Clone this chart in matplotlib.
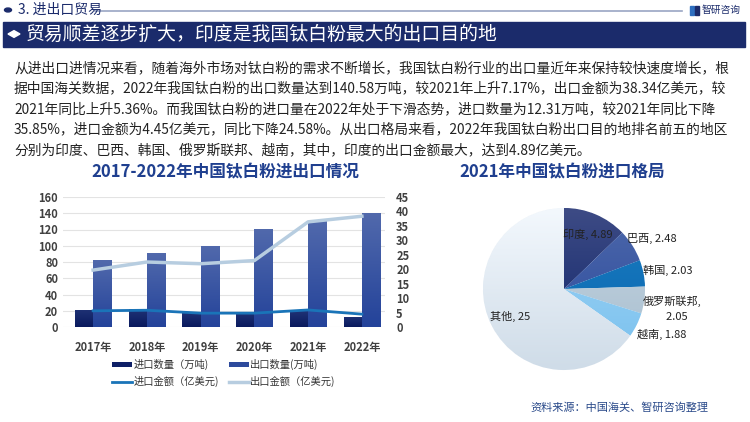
import matplotlib.pyplot as plt
import numpy as np
from matplotlib.patches import Rectangle, Circle, RegularPolygon
from matplotlib.colors import LinearSegmentedColormap

plt.rcParams['font.family'] = ['Noto Sans CJK SC', 'DejaVu Sans']

# bar / line data
years = ["2017年", "2018年", "2019年", "2020年", "2021年", "2022年"]
import_qty = [21, 22, 18, 18, 19.2, 12.31]        # 万吨
export_qty = [83, 91, 100, 121, 131, 140.58]      # 万吨
import_amt = [5.6, 5.8, 4.8, 4.8, 5.9, 4.45]      # 亿美元
export_amt = [19.7, 22.5, 21.9, 23.0, 36.4, 38.34]  # 亿美元

# pie data
pie_labels = ["印度", "巴西", "韩国", "俄罗斯联邦", "越南", "其他"]
pie_values = [4.89, 2.48, 2.03, 2.05, 1.88, 25]
pie_top = ["#3d4b85", "#4d68aa", "#1a7dc2", "#c6d5e1", "#a2d5f5", "#f3f8fd"]
pie_bottom = ["#0c2167", "#28479c", "#0964ad", "#a6bdce", "#78c0ee", "#cfdce8"]

W, H = 750, 422
fig = plt.figure(figsize=(W / 100, H / 100), dpi=100)
fig.patch.set_facecolor("white")


def px(x, y):
    return x / W, 1 - y / H


# ---- header ----
fig.patches.append(Circle(px(8, 10), 3.5 / W, transform=fig.transFigure,
                          color="#1b2b6b", figure=fig))
fig.text(*px(18, 10), "3. 进出口贸易", fontsize=10, color="#1b2b6b", va="center")
fig.add_artist(plt.Line2D([95 / W, 682 / W], [1 - 11 / H] * 2, color="#9aa6c4", lw=1.2))
fig.add_artist(Rectangle(px(690, 15), 4 / W, 9 / H, transform=fig.transFigure,
                         color="#2e6fc0"))
fig.add_artist(Rectangle(px(695, 15), 4 / W, 9 / H, transform=fig.transFigure,
                         color="#1b2b6b"))
fig.text(*px(702, 10), "智研咨询", fontsize=7, color="#1b2b6b", va="center")

fig.add_artist(Rectangle(px(3, 47), 742 / W, 25 / H, transform=fig.transFigure,
                         color="#1b2b6b"))
fig.add_artist(RegularPolygon(px(14, 34), 4, radius=6 / W, transform=fig.transFigure,
                              color="white"))
fig.text(*px(26, 34), "贸易顺差逐步扩大，印度是我国钛白粉最大的出口目的地",
         fontsize=13.6, color="white", va="center")

paragraph = [
    "从进出口进情况来看，随着海外市场对钛白粉的需求不断增长，我国钛白粉行业的出口量近年来保持较快速度增长，根",
    "据中国海关数据，2022年我国钛白粉的出口数量达到140.58万吨，较2021年上升7.17%，出口金额为38.34亿美元，较",
    "2021年同比上升5.36%。而我国钛白粉的进口量在2022年处于下滑态势，进口数量为12.31万吨，较2021年同比下降",
    "35.85%，进口金额为4.45亿美元，同比下降24.58%。从出口格局来看，2022年我国钛白粉出口目的地排名前五的地区",
    "分别为印度、巴西、韩国、俄罗斯联邦、越南，其中，印度的出口金额最大，达到4.89亿美元。",
]
for i, line in enumerate(paragraph):
    fig.text(*px(14, 68 + i * 20.5), line, fontsize=9.9, color="#222222", va="center")

# ---- titles ----
fig.text(*px(225, 172), "2017-2022年中国钛白粉进出口情况", fontsize=12, fontweight="bold",
         color="#1f3f8f", ha="center", va="center")
fig.text(*px(562, 172), "2021年中国钛白粉进口格局", fontsize=12, fontweight="bold",
         color="#1f3f8f", ha="center", va="center")

# ---- bar + line chart ----
ax = fig.add_axes([63 / W, 1 - 327 / H, 322 / W, 130 / H])
x = np.arange(len(years))
bw = 0.34


def gradient_fill(axis, patch, top, bottom, bbox):
    cmap = LinearSegmentedColormap.from_list("g", [bottom, top])
    grad = np.linspace(0, 1, 64).reshape(-1, 1)
    im = axis.imshow(grad, cmap=cmap, origin="lower", aspect="auto",
                     extent=bbox, zorder=patch.get_zorder() + 0.1)
    im.set_clip_path(patch)


b1 = ax.bar(x - bw / 2, import_qty, bw, color="#0e1f66", zorder=2)
b2 = ax.bar(x + bw / 2, export_qty, bw, color="#2d4a9c", zorder=2)
for b in b1:
    gradient_fill(ax, b, "#1f3275", "#0a1a5e",
                  [b.get_x(), b.get_x() + b.get_width(), 0, b.get_height()])
for b in b2:
    gradient_fill(ax, b, "#5169ac", "#24439a",
                  [b.get_x(), b.get_x() + b.get_width(), 0, b.get_height()])

ax.set_xlim(-0.56, 5.43)
ax.set_ylim(0, 160)
ax.set_yticks(range(0, 161, 20))
ax.set_xticks(x)
ax.set_xticklabels(years)
ax.grid(axis="y", color="#e3e3e3", lw=0.8, zorder=0)
ax.set_axisbelow(True)
for s in ax.spines.values():
    s.set_visible(False)
ax.tick_params(length=0, labelsize=8, labelcolor="#404040")
ax.tick_params(axis="x", pad=10)
for t in ax.get_xticklabels() + ax.get_yticklabels():
    t.set_fontweight("bold")

ax2 = ax.twinx()
ax2.set_ylim(0, 45)
ax2.set_yticks(range(0, 46, 5))
l1, = ax2.plot(x, import_amt, color="#1a74b8", lw=2, zorder=3)
l2, = ax2.plot(x, export_amt, color="#b7cde0", lw=2.5, zorder=3)
for s in ax2.spines.values():
    s.set_visible(False)
ax2.tick_params(length=0, labelsize=8, labelcolor="#404040", pad=8)
for t in ax2.get_yticklabels():
    t.set_fontweight("bold")
ax.set_zorder(1)
ax2.set_zorder(2)
ax2.patch.set_visible(False)

fig.legend([b1[0], l1, b2[0], l2],
           ["进口数量（万吨)", "进口金额（亿美元)", "出口数量(万吨)", "出口金额（亿美元)"],
           loc="center", bbox_to_anchor=px(224, 373), ncol=2, frameon=False,
           fontsize=7.4, handlelength=1.9, handleheight=0.35, columnspacing=1.0,
           labelspacing=0.55, handletextpad=0.15, labelcolor="#333333")

# ---- pie ----
axp = fig.add_axes([483 / W, 1 - 370 / H, 162 / W, 162 / H])
wedges, _ = axp.pie(pie_values, colors=pie_bottom, startangle=90, counterclock=False,
                    wedgeprops=dict(edgecolor="white", linewidth=0.6))
for w, top, bottom in zip(wedges, pie_top, pie_bottom):
    gradient_fill(axp, w, top, bottom, [-1, 1, -1, 1])
axp.set_xlim(-1, 1)
axp.set_ylim(-1, 1)
axp.set_aspect("equal")
axp.axis("off")

label_pos = [(588, 234), (652, 238), (668, 270), (672, 298), (662, 334), (510, 316)]
for (lx, ly), name, v in zip(label_pos, pie_labels, pie_values):
    txt = f"{name}, {v:g}"
    if name == "俄罗斯联邦":
        txt = f"{name},\n    {v:g}"
        ly += 11
    fig.text(*px(lx, ly), txt, fontsize=8, color="#222222", ha="center", va="center",
             linespacing=1.7, zorder=5)

fig.text(*px(708, 408), "资料来源：中国海关、智研咨询整理", fontsize=8, color="#2a4a8a",
         ha="right", va="center")

plt.savefig("out.png", dpi=100)
